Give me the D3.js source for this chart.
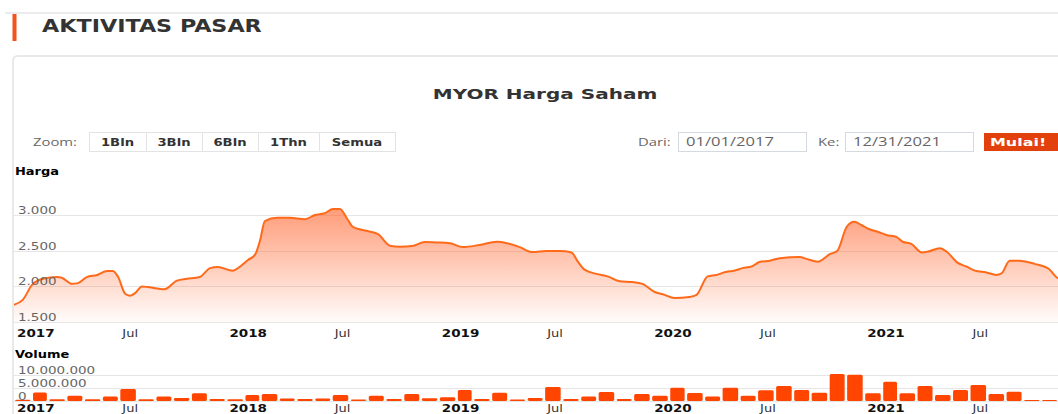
<!DOCTYPE html>
<html>
<head>
<meta charset="utf-8">
<script src="https://cdn.jsdelivr.net/npm/d3@7"></script>
<style>
  body { margin: 0; background: #fff; }
  svg { display: block; }
</style>
</head>
<body>
<div id="chart"></div>
<script>
// price series (daily closes sampled from the chart)
var priceDates = [
  "2017-01-01", "2017-01-16", "2017-02-01", "2017-02-20", "2017-03-16", "2017-03-24",
  "2017-04-11", "2017-04-21", "2017-05-06", "2017-05-24", "2017-06-10", "2017-06-20",
  "2017-06-29", "2017-07-11", "2017-07-19", "2017-07-28", "2017-08-09", "2017-08-19",
  "2017-09-04", "2017-09-17", "2017-10-08", "2017-10-25", "2017-11-16", "2017-12-04",
  "2017-12-17", "2018-01-12", "2018-01-24", "2018-02-07", "2018-02-19", "2018-02-28",
  "2018-03-08", "2018-03-29", "2018-04-20", "2018-05-16", "2018-06-02", "2018-06-19",
  "2018-07-03", "2018-07-15", "2018-07-27", "2018-08-06", "2018-08-23", "2018-09-18",
  "2018-10-09", "2018-10-26", "2018-11-16", "2018-12-08", "2018-12-29", "2019-01-20",
  "2019-02-11", "2019-03-12", "2019-04-11", "2019-04-28", "2019-05-20", "2019-06-11",
  "2019-07-05", "2019-07-28", "2019-08-17", "2019-08-28", "2019-09-09", "2019-09-29",
  "2019-10-18", "2019-11-08", "2019-11-30", "2019-12-17", "2020-01-07", "2020-01-21",
  "2020-02-10", "2020-03-07", "2020-03-19", "2020-04-07", "2020-04-22", "2020-05-10",
  "2020-05-20", "2020-06-06", "2020-06-22", "2020-07-05", "2020-07-23", "2020-08-09",
  "2020-09-12", "2020-09-24", "2020-10-13", "2020-11-03", "2020-11-16", "2020-12-02",
  "2020-12-15", "2020-12-27", "2021-01-10", "2021-01-24", "2021-02-08", "2021-02-26",
  "2021-03-08", "2021-03-23", "2021-04-10", "2021-04-20", "2021-05-11", "2021-05-23",
  "2021-06-09", "2021-06-26", "2021-07-10", "2021-07-30", "2021-08-16", "2021-08-25",
  "2021-09-08", "2021-09-25", "2021-10-21", "2021-11-15", "2021-11-27", "2021-12-20"
];
var priceValues = [
  1740, 1810, 2020, 2105, 2130, 2120,
  2035, 2045, 2130, 2160, 2215, 2215,
  2130, 1895, 1868, 1905, 1998, 1990,
  1970, 1960, 2080, 2105, 2130, 2255,
  2270, 2220, 2275, 2370, 2440, 2650,
  2915, 2960, 2960, 2940, 3000, 3025,
  3085, 3085, 2955, 2835, 2790, 2735,
  2570, 2555, 2565, 2620, 2615, 2605,
  2550, 2580, 2625, 2605, 2550, 2480,
  2495, 2495, 2475, 2345, 2230, 2175,
  2140, 2070, 2060, 2035, 1920, 1890,
  1835, 1850, 1880, 2140, 2160, 2205,
  2215, 2255, 2280, 2340, 2360, 2395,
  2410, 2385, 2345, 2450, 2500, 2835,
  2905, 2860, 2800, 2765, 2720, 2690,
  2625, 2595, 2475, 2485, 2535, 2485,
  2340, 2275, 2220, 2195, 2160, 2180,
  2360, 2360, 2315, 2240, 2130, 2060
];

// monthly volume in millions of shares, Jan..Dec per year
var volumeYears = ["2017", "2018", "2019", "2020", "2021"];
var volumeMillions = [
  [0.5, 3.3, 0.65, 2.0, 0.65, 1.7, 4.6, 0.65, 1.7, 1.15, 3.0, 0.8],
  [0.65, 2.3, 2.7, 1.0, 0.8, 1.0, 2.3, 0.6, 2.0, 0.8, 2.7, 1.1],
  [1.4, 4.2, 0.8, 3.2, 0.6, 1.15, 5.4, 0.8, 1.7, 3.5, 0.8, 2.7],
  [2.0, 5.1, 3.1, 1.7, 5.1, 2.0, 4.1, 5.8, 4.2, 3.2, 10.4, 10.1],
  [3.0, 7.4, 3.0, 5.8, 2.3, 4.2, 6.2, 2.7, 3.6, 0, 0, 0]
];

var yearLabels = ["2017", "2018", "2019", "2020", "2021"];
var midYearLabel = "Jul";
var priceTicks = [1500, 2000, 2500, 3000];
var volumeTicks = [0, 5000000, 10000000];
var zoomButtons = ["1Bln", "3Bln", "6Bln", "1Thn", "Semua"];

var W = 1058, H = 414;
var parse = d3.timeParse("%Y-%m-%d");
var idFmt = d3.formatLocale({ decimal: ",", thousands: ".", grouping: [3], currency: ["", ""] }).format(",");

var svg = d3.select("#chart").append("svg")
  .attr("width", W)
  .attr("height", H);

// glyphs in the reference are stretched sideways
function label(g, x, y, str, o) {
  o = o || {};
  return g.append("text")
    .attr("transform", "translate(" + x + "," + y + ") scale(" + (o.sx || 1.3) + ",1)")
    .attr("text-anchor", o.anchor || "start")
    .style("font-family", o.font || "'DejaVu Sans', Verdana, sans-serif")
    .style("font-size", (o.size || 11) + "px")
    .style("font-weight", o.weight || "normal")
    .style("fill", o.fill || "#333")
    .text(str);
}

// page header
svg.append("line").attr("x1", 5).attr("x2", W).attr("y1", 13).attr("y2", 13)
  .attr("stroke", "#e6e6e6").attr("stroke-width", 1.5);
svg.append("rect").attr("x", 12.5).attr("y", 14).attr("width", 4).attr("height", 27)
  .attr("fill", "#f2531c");
label(svg, 42, 32, "AKTIVITAS PASAR", { size: 17, weight: "bold", sx: 1.31, fill: "#333" });

// panel border
svg.append("path")
  .attr("d", "M13," + H + " V61 Q13,56 18,56 H" + W)
  .attr("fill", "none").attr("stroke", "#e9e9e9").attr("stroke-width", 2);

label(svg, 545, 99, "MYOR Harga Saham", { size: 14, weight: "bold", sx: 1.43, anchor: "middle", fill: "#333" });

// range selector
label(svg, 33, 146, "Zoom:", { size: 11, sx: 1.35, fill: "#666", font: "'Open Sans', sans-serif" });
var btnX = [89, 146, 202, 258, 319, 395];
zoomButtons.forEach(function (b, i) {
  svg.append("rect").attr("x", btnX[i] + 0.5).attr("y", 132.5)
    .attr("width", btnX[i + 1] - btnX[i]).attr("height", 19)
    .attr("fill", "#fff").attr("stroke", "#e3e3e3");
  label(svg, (btnX[i] + btnX[i + 1]) / 2, 146, b, { size: 10, weight: "bold", sx: 1.32, anchor: "middle", fill: "#333" });
});

label(svg, 638, 146, "Dari:", { size: 11, sx: 1.35, fill: "#666", font: "'Open Sans', sans-serif" });
label(svg, 818, 146, "Ke:", { size: 11, sx: 1.35, fill: "#666", font: "'Open Sans', sans-serif" });
[[678, "01/01/2017"], [845, "12/31/2021"]].forEach(function (d) {
  svg.append("rect").attr("x", d[0] + 0.5).attr("y", 132.5).attr("width", 128).attr("height", 19)
    .attr("fill", "#fff").attr("stroke", "#d5d9e0");
  label(svg, d[0] + 8, 146, d[1], { size: 12, sx: 1.38, fill: "#666", font: "'Open Sans', sans-serif" });
});
svg.append("rect").attr("x", 984).attr("y", 133).attr("width", 80).attr("height", 18).attr("fill", "#e2400d");
label(svg, 990, 146, "Mulai!", { size: 11, weight: "bold", sx: 1.45, fill: "#fff" });

// scales
var x = d3.scaleTime()
  .domain([parse("2017-01-01"), parse("2021-12-31")])
  .range([14, 1076]);
var yPrice = d3.scaleLinear().domain([1500, 3000]).range([322, 215]);
var yVol = d3.scaleLinear().domain([0, 10000000]).range([401, 375]);
var priceTop = yPrice(3500);

var price = priceDates.map(function (d, i) { return { date: parse(d), value: priceValues[i] }; });

// gradient for the area
var defs = svg.append("defs");
var grad = defs.append("linearGradient").attr("id", "areaGrad")
  .attr("gradientUnits", "userSpaceOnUse")
  .attr("x1", 0).attr("x2", 0).attr("y1", priceTop).attr("y2", yPrice(1500));
grad.append("stop").attr("offset", "0%").attr("stop-color", "#ff5a1f").attr("stop-opacity", 0.75);
grad.append("stop").attr("offset", "100%").attr("stop-color", "#ff5a1f").attr("stop-opacity", 0.02);
defs.append("clipPath").attr("id", "plotClip").append("rect")
  .attr("x", 14).attr("y", 150).attr("width", 1062).attr("height", 260);

// price grid + labels
var pg = svg.append("g");
pg.selectAll("line").data(priceTicks).enter().append("line")
  .attr("x1", 14).attr("x2", W)
  .attr("y1", function (d) { return Math.round(yPrice(d)) + 0.5; })
  .attr("y2", function (d) { return Math.round(yPrice(d)) + 0.5; })
  .attr("stroke", "#e6e6e6");
label(svg, 15, 175, "Harga", { size: 10, weight: "bold", sx: 1.3, fill: "#000" });

var plot = svg.append("g").attr("clip-path", "url(#plotClip)");
plot.append("path").datum(price)
  .attr("fill", "url(#areaGrad)")
  .attr("d", d3.area().curve(d3.curveMonotoneX)
    .x(function (d) { return x(d.date); })
    .y0(yPrice(1500))
    .y1(function (d) { return yPrice(d.value); }));

priceTicks.forEach(function (t) {
  label(svg, 18, yPrice(t) - 1, idFmt(t), { size: 10, sx: 1.35, fill: "#666" });
});

plot.append("path").datum(price)
  .attr("fill", "none")
  .attr("stroke", "#ff6a1a")
  .attr("stroke-width", 2)
  .attr("d", d3.line().curve(d3.curveMonotoneX)
    .x(function (d) { return x(d.date); })
    .y(function (d) { return yPrice(d.value); }));

// x-axis labels, years bold, July plain
function timeLabels(y) {
  yearLabels.forEach(function (yr) {
    label(svg, x(parse(yr + "-01-01")) + 3, y, yr, { size: 10, weight: "bold", sx: 1.35, fill: "#111" });
    label(svg, x(parse(yr + "-07-01")) + 3, y, midYearLabel, { size: 10, sx: 1.3, fill: "#333" });
  });
}
timeLabels(337);

// volume panel
label(svg, 15, 358, "Volume", { size: 10, weight: "bold", sx: 1.3, fill: "#000" });
svg.append("g").selectAll("line").data(volumeTicks).enter().append("line")
  .attr("x1", 14).attr("x2", W)
  .attr("y1", function (d) { return Math.round(yVol(d)) + 0.5; })
  .attr("y2", function (d) { return Math.round(yVol(d)) + 0.5; })
  .attr("stroke", "#e6e6e6");

var vol = [];
volumeYears.forEach(function (yr, yi) {
  volumeMillions[yi].forEach(function (v, m) {
    var start = new Date(+yr, m, 1);
    vol.push({ start: start, end: d3.timeMonth.offset(start, 1), value: v * 1e6 });
  });
});

svg.append("g").attr("clip-path", "url(#plotClip)")
  .selectAll("rect").data(vol).enter().append("rect")
  .attr("x", function (d) { return x(d.start) + 1; })
  .attr("width", function (d) { return x(d.end) - x(d.start) - 2.5; })
  .attr("y", function (d) { return Math.min(yVol(d.value), yVol(0) - 1); })
  .attr("height", function (d) { return Math.max(yVol(0) - yVol(d.value), 1); })
  .attr("rx", 1.5)
  .attr("fill", "#ff4500");

volumeTicks.forEach(function (t) {
  label(svg, 18, yVol(t) - 1, idFmt(t), { size: 10, sx: 1.35, fill: "#666" });
});

timeLabels(412);
</script>
</body>
</html>
